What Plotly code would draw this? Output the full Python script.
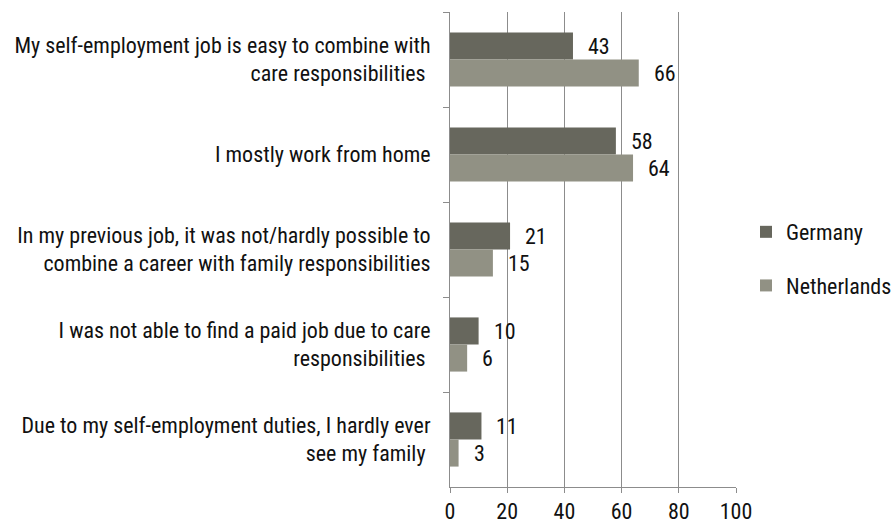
import plotly.graph_objects as go

categories = [
    "My self-employment job is easy to combine with<br>care responsibilities ",
    "I mostly work from home",
    "In my previous job, it was not/hardly possible to<br>combine a career with family responsibilities",
    "I was not able to find a paid job due to care<br>responsibilities ",
    "Due to my self-employment duties, I hardly ever<br>see my family ",
]
germany = [43, 58, 21, 10, 11]
netherlands = [66, 64, 15, 6, 3]
x_ticks = [0, 20, 40, 60, 80, 100]

FONT = "Roboto Condensed, sans-serif"
FS = 22
C_DE = "#67675d"
C_NL = "#919184"

fig = go.Figure()
fig.add_trace(go.Bar(y=categories, x=germany, name="Germany", orientation="h",
                     marker=dict(color=C_DE, line=dict(width=0)), legendgroup="de"))
fig.add_trace(go.Bar(y=categories, x=netherlands, name="Netherlands", orientation="h",
                     marker=dict(color=C_NL, line=dict(width=0)), legendgroup="nl"))

ann = []
for i, c in enumerate(categories):
    ann.append(dict(x=germany[i], y=c, text=str(germany[i]), showarrow=False,
                    xanchor="left", yshift=13.5, xshift=13,
                    font=dict(family=FONT, size=FS, color="#111")))
    ann.append(dict(x=netherlands[i], y=c, text=str(netherlands[i]), showarrow=False,
                    xanchor="left", yshift=-13.5, xshift=13,
                    font=dict(family=FONT, size=FS, color="#111")))

fig.update_layout(
    width=894, height=527,
    margin=dict(l=450, r=158, t=12, b=40, autoexpand=False),
    paper_bgcolor="white", plot_bgcolor="white",
    barmode="group", bargap=0.43, bargroupgap=0,
    font=dict(family=FONT, size=FS, color="#111"),
    annotations=ann,
    legend=dict(x=1.035, y=0.581, xanchor="left", yanchor="top",
                tracegroupgap=22, font=dict(family=FONT, size=FS),
                itemwidth=30),
    showlegend=True,
)
fig.update_xaxes(range=[0, 100], tickvals=x_ticks, showgrid=True, gridcolor="#8c8c8c",
                 gridwidth=1, showline=True, linecolor="#8c8c8c", ticks="outside",
                 ticklen=5, tickcolor="#8c8c8c", zeroline=False, fixedrange=True)
fig.update_yaxes(autorange="reversed", type="category", tickson="boundaries",
                 showline=True, linecolor="#8c8c8c", ticks="outside", ticklen=6,
                 tickcolor="#8c8c8c", showgrid=False, ticklabelstandoff=14)

fig.write_html("out.html")
